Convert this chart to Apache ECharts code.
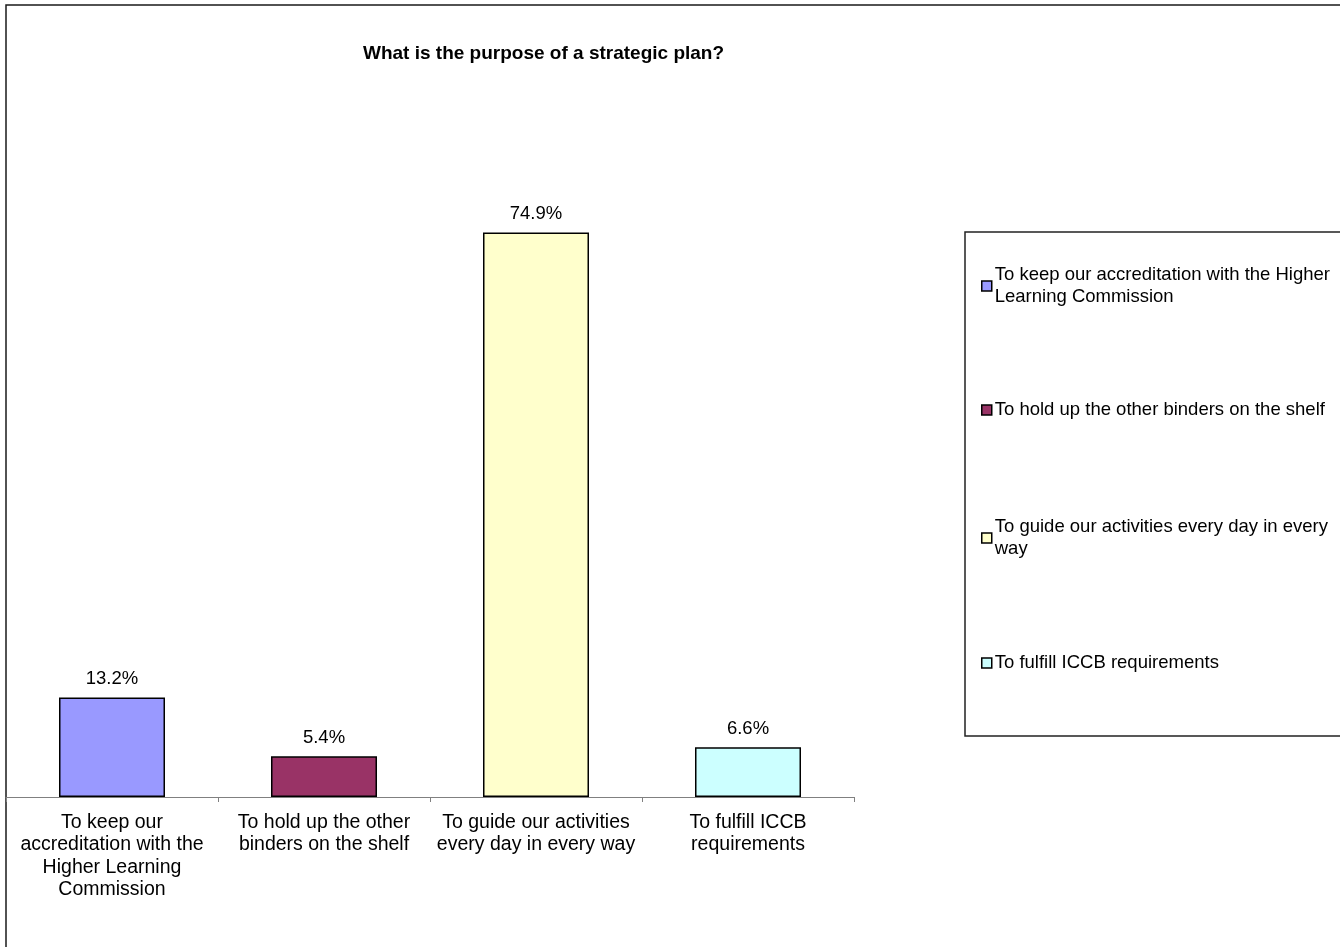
<!DOCTYPE html>
<html>
<head>
<meta charset="utf-8">
<title>What is the purpose of a strategic plan?</title>
<script src="https://cdn.jsdelivr.net/npm/echarts@6/dist/echarts.min.js"></script>
<style>
  html, body { margin: 0; padding: 0; background: #ffffff; }
  #chart { width: 1340px; height: 947px; }
</style>
</head>
<body>
<div id="chart"></div>
<script>
// Survey answers and their share of responses (%)
const categories = [
  'To keep our accreditation with the Higher Learning Commission',
  'To hold up the other binders on the shelf',
  'To guide our activities every day in every way',
  'To fulfill ICCB requirements'
];
const values = [13.2, 5.4, 74.9, 6.6];
const colors = ['#9999FF', '#993366', '#FFFFCC', '#CCFFFF'];

// Wrapped text for the category axis and the legend
const tickLabels = [
  'To keep our\naccreditation with the\nHigher Learning\nCommission',
  'To hold up the other\nbinders on the shelf',
  'To guide our activities\nevery day in every way',
  'To fulfill ICCB\nrequirements'
];
const legendLabels = [
  'To keep our accreditation with the Higher\nLearning Commission',
  'To hold up the other binders on the shelf',
  'To guide our activities every day in every\nway',
  'To fulfill ICCB requirements'
];

const FONT = '"Liberation Sans", Arial, Helvetica, sans-serif';

// One series per answer so every answer gets its own legend entry
const series = categories.map((name, i) => ({
  name: name,
  type: 'bar',
  barWidth: '50%',
  barGap: '-100%',
  data: categories.map((c, j) => (j === i ? values[i] : '-')),
  itemStyle: { color: colors[i], borderColor: '#000000', borderWidth: 1.5 },
  label: {
    show: true,
    position: 'top',
    distance: 9,
    formatter: p => p.value + '%',
    color: '#000000',
    fontFamily: FONT,
    fontSize: 18.5
  },
  emphasis: { disabled: true }
}));

// Legend entries, each placed on its own row inside the frame
const legendTops = [253, 399, 505, 652];
const legends = categories.map((name, i) => {
  const twoLine = legendLabels[i].indexOf('\n') >= 0;
  return {
    data: [name],
    orient: 'vertical',
    left: 981,
    top: legendTops[i],
    padding: 0,
    itemWidth: 10,
    itemHeight: 10,
    itemGap: 0,
    icon: 'rect',
    selectedMode: false,
    itemStyle: { borderColor: '#000000', borderWidth: 1.5 },
    formatter: () => legendLabels[i],
    textStyle: {
      color: '#000000',
      fontFamily: FONT,
      fontSize: 18.5,
      lineHeight: 22,
      padding: twoLine ? [22, 0, 0, -2] : [0, 0, 0, -2]
    }
  };
});

const chart = echarts.init(document.getElementById('chart'), null, { renderer: 'canvas' });
chart.setOption({
  backgroundColor: '#ffffff',
  animation: false,
  title: {
    text: 'What is the purpose of a strategic plan?',
    left: 363,
    top: 44,
    padding: 0,
    textStyle: { color: '#000000', fontFamily: FONT, fontSize: 19, fontWeight: 'bold' }
  },
  legend: legends,
  grid: { left: 6, right: 486, top: 194, bottom: 150, containLabel: false },
  xAxis: {
    type: 'category',
    data: categories,
    axisLine: { show: true, lineStyle: { color: '#808080', width: 1 } },
    axisTick: { show: true, length: 5, lineStyle: { color: '#808080' } },
    axisLabel: {
      interval: 0,
      margin: 14,
      color: '#000000',
      fontFamily: FONT,
      fontSize: 19.5,
      lineHeight: 22.5,
      align: 'center',
      formatter: (v, idx) => tickLabels[idx]
    },
    splitLine: { show: false }
  },
  yAxis: { type: 'value', min: 0, max: 80, show: false, splitLine: { show: false } },
  series: series,
  graphic: [
    // chart frame
    { type: 'rect', shape: { x: 6, y: 5, width: 2000, height: 2000 }, style: { fill: 'none', stroke: '#1a1a1a', lineWidth: 1.5 }, silent: true, z: -1 },
    // legend frame
    { type: 'rect', shape: { x: 965, y: 232, width: 1000, height: 504 }, style: { fill: 'none', stroke: '#222222', lineWidth: 1.5 }, silent: true, z: -1 }
  ]
});
</script>
</body>
</html>
